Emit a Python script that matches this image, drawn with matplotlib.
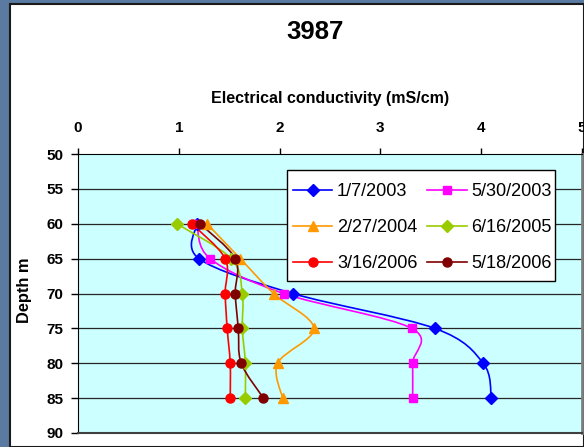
import matplotlib
matplotlib.use("Agg")
import matplotlib.pyplot as plt
import numpy as np
from matplotlib.path import Path
from matplotlib.patches import PathPatch, Rectangle
from matplotlib.lines import Line2D

plt.rcParams['font.family'] = ['Liberation Sans', 'DejaVu Sans']

# Depths sampled (m) and conductivity per survey date (mS/cm)
depths = [60, 65, 70, 75, 80, 85]
dates = ["1/7/2003", "5/30/2003", "2/27/2004", "6/16/2005", "3/16/2006", "5/18/2006"]
ec_2003_01 = [1.18, 1.20, 2.13, 3.54, 4.02, 4.10]
ec_2003_05 = [1.18, 1.31, 2.04, 3.31, 3.32, 3.32]
ec_2004_02 = [1.28, 1.61, 1.94, 2.34, 1.98, 2.03]
ec_2005_06 = [0.98, 1.52, 1.63, 1.63, 1.66, 1.66]
ec_2006_03 = [1.13, 1.46, 1.46, 1.48, 1.51, 1.51]
ec_2006_05 = [1.21, 1.56, 1.56, 1.59, 1.62, 1.84]
series = [ec_2003_01, ec_2003_05, ec_2004_02, ec_2005_06, ec_2006_03, ec_2006_05]

colors = ['#0000FF', '#FF00FF', '#FF9900', '#99CC00', '#FF0000', '#800000']
markers = ['D', 's', '^', 'D', 'o', 'o']
msizes = [6.0, 6.0, 7.5, 6.0, 6.5, 6.5]

W, H = 584, 447
fig = plt.figure(figsize=(W / 100, H / 100), dpi=100)
fig.patch.set_facecolor('#5a7aa2')

# white chart area with dark frame
fig.patches.append(Rectangle((10 / W, 0), 1 - 10 / W, 1 - 4 / H, transform=fig.transFigure,
                             facecolor='white', edgecolor='#1a1a1a', linewidth=1.5, zorder=-5))

ax = fig.add_axes([78 / W, 1 - 433 / H, (582 - 78) / W, (433 - 154) / H])
ax.set_zorder(2)
ax.set_facecolor('#CCFFFF')
ax.set_xlim(0, 5)
ax.set_ylim(90, 50)
ax.set_xticks(range(0, 6))
ax.set_yticks(range(50, 95, 5))
ax.xaxis.tick_top()
ax.tick_params(axis='x', direction='out', length=4, width=1, pad=10, labelsize=11)
ax.tick_params(axis='y', direction='out', length=5, width=1, pad=5.5, labelsize=11)
for lab in ax.get_xticklabels() + ax.get_yticklabels():
    lab.set_fontweight('bold')

for d in range(55, 90, 5):
    ax.axhline(d, color='#262626', lw=0.9, zorder=1)

ax.spines['top'].set_color('black')
ax.spines['left'].set_color('black')
ax.spines['right'].set_color('#808080')
ax.spines['right'].set_linewidth(2)
ax.spines['bottom'].set_color('#404040')
ax.spines['bottom'].set_linewidth(1.5)


def smooth_path(xs, ys):
    """Catmull-Rom style cubic Bezier through the points."""
    pts = np.column_stack([xs, ys]).astype(float)
    n = len(pts)
    verts = [pts[0]]
    codes = [Path.MOVETO]
    for i in range(n - 1):
        p0 = pts[i - 1] if i > 0 else pts[i]
        p1 = pts[i]
        p2 = pts[i + 1]
        p3 = pts[i + 2] if i + 2 < n else pts[i + 1]
        c1 = p1 + (p2 - p0) / 6.0
        c2 = p2 - (p3 - p1) / 6.0
        verts += [c1, c2, p2]
        codes += [Path.CURVE4] * 3
    return Path(verts, codes)


handles = []
for vals, c, m, ms, lab in zip(series, colors, markers, msizes, dates):
    ax.add_patch(PathPatch(smooth_path(vals, depths), facecolor='none', edgecolor=c,
                           lw=1.2, zorder=3))
    ax.plot(vals, depths, linestyle='none', marker=m, ms=ms, color=c, mec=c, zorder=4)
    handles.append(Line2D([], [], color=c, lw=1.2, marker=m, ms=ms, mec=c, label=lab))

# legend frame drawn separately so its padding can differ per side
fig.patches.append(Rectangle((287 / W, 1 - 281 / H), (555 - 287) / W, (281 - 170) / H,
                             transform=fig.transFigure, facecolor='white',
                             edgecolor='black', linewidth=1.0, zorder=8))

# two columns filled row by row
ordered = handles[0::2] + handles[1::2]
leg = fig.legend(handles=ordered, ncol=2, loc='upper left',
                 bbox_to_anchor=(293 / W, 1 - 183 / H), bbox_transform=fig.transFigure,
                 fontsize=13.1, frameon=False,
                 handlelength=2.15, handletextpad=0.27, columnspacing=0.55,
                 labelspacing=1.05, borderpad=0, borderaxespad=0)
leg.set_zorder(10)

fig.text(315 / W, 1 - 32 / H, "3987", ha='center', va='center', fontsize=18.5, fontweight='bold')
fig.text(330 / W, 1 - 99 / H, "Electrical conductivity (mS/cm)", ha='center', va='center',
         fontsize=11.5, fontweight='bold')
fig.text(24 / W, 1 - 290 / H, "Depth m", ha='center', va='center', rotation=90,
         fontsize=11.8, fontweight='bold')

fig.savefig('out.png', dpi=100, facecolor=fig.get_facecolor())
